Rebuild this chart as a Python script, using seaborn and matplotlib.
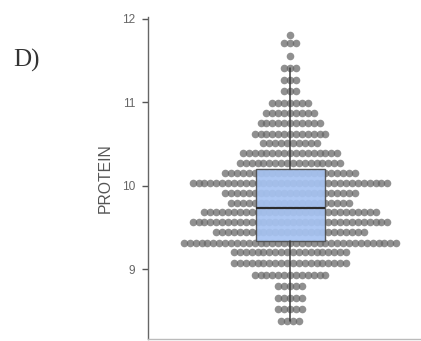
import numpy as np
import pandas as pd
import seaborn as sns
import matplotlib.pyplot as plt

# stacked dot rows: bin value and number of dots in the row
protein_levels = [11.81, 11.71, 11.55, 11.41, 11.27, 11.13, 10.99, 10.87, 10.75, 10.62,
                  10.51, 10.39, 10.27, 10.15, 10.03, 9.91, 9.79, 9.68, 9.56, 9.44,
                  9.31, 9.20, 9.07, 8.93, 8.80, 8.66, 8.52, 8.38]
dot_counts = [1, 3, 1, 3, 3, 3, 7, 9, 11, 13,
              10, 17, 18, 23, 34, 23, 21, 30, 34, 26,
              37, 20, 20, 13, 5, 5, 5, 4]

# box plot summary (drawn from the raw values in the original)
box_q1 = 9.338
box_median = 9.73
box_q3 = 10.198
whisker_low = 8.38
whisker_high = 11.41

y_ticks = [9, 10, 11, 12]

DOT_STEP = 5.9  # horizontal spacing of stacked dots (x axis is in pixels)

rows = []
for level, n in zip(protein_levels, dot_counts):
    offsets = (np.arange(n) - (n - 1) / 2) * DOT_STEP
    for off in offsets:
        rows.append({"offset": off, "PROTEIN": level})
df = pd.DataFrame(rows)

sns.set_style("ticks")
plt.rcParams["font.family"] = ["Liberation Sans", "DejaVu Sans"]

fig = plt.figure(figsize=(4.21, 3.41), dpi=100)
ax = fig.add_axes([148 / 421, 2 / 341, (421 - 148) / 421, (339 - 17) / 341])

sns.scatterplot(data=df, x="offset", y="PROTEIN", ax=ax, s=30, color="#666666",
                alpha=0.72, linewidth=0, zorder=2)

stats = [{"med": box_median, "q1": box_q1, "q3": box_q3,
          "whislo": whisker_low, "whishi": whisker_high, "fliers": []}]
ax.bxp(stats, positions=[0], widths=69, patch_artist=True, showcaps=False,
       showfliers=False, zorder=3,
       boxprops=dict(facecolor="#a6c3f2", edgecolor="#4d4d4d", linewidth=1.0, alpha=0.92),
       medianprops=dict(color="#2b2b2b", linewidth=1.6),
       whiskerprops=dict(color="#3a3a3a", linewidth=1.1))

ax.set_xlim(148 - 290, 421 - 290)
ax.set_ylim(8.163, 12.02)
ax.set_yticks(y_ticks)
ax.set_xticks([])
ax.set_xlabel("")
ax.set_ylabel("PROTEIN", fontsize=11.3, color="#555555", labelpad=7)
ax.tick_params(axis="y", length=4, width=1, color="#555555", labelcolor="#666666",
               labelsize=8.6, pad=5)

sns.despine(ax=ax, top=True, right=True)
ax.spines["left"].set_color("#666666")
ax.spines["left"].set_linewidth(1.0)
ax.spines["bottom"].set_color("#bbbbbb")
ax.spines["bottom"].set_linewidth(1.0)

fig.text(13 / 421, 1 - 67 / 341, "D)", fontsize=18, color="#333333",
         family=["Liberation Serif", "DejaVu Serif"], ha="left", va="baseline")

plt.savefig("out.png", dpi=100)
